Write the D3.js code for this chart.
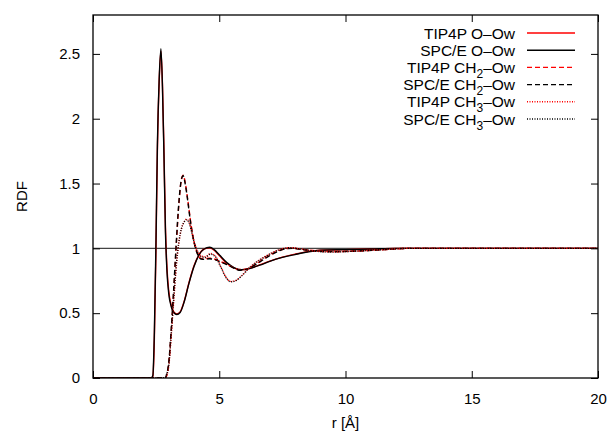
<!DOCTYPE html>
<html>
<head>
<meta charset="utf-8">
<script src="https://cdn.jsdelivr.net/npm/d3@7"></script>
<style>
  html, body { margin: 0; padding: 0; background: #fff; }
  svg { display: block; font-family: "Liberation Sans", Arial, sans-serif; }
</style>
</head>
<body>
<svg id="chart" width="610" height="435"></svg>
<script>
// ---- data ----
const xTicks = [0, 5, 10, 15, 20];
const yTicks = [0, 0.5, 1, 1.5, 2, 2.5];
const yTickLabels = ["0", "0.5", "1", "1.5", "2", "2.5"];

// O–Ow
const rO      = [0, 2.3, 2.37, 2.43, 2.49, 2.55, 2.62, 2.69, 2.75, 2.81, 2.87, 2.93, 3.0, 3.1, 3.2, 3.32, 3.45, 3.6, 3.8, 4.0, 4.2, 4.4, 4.62, 4.8, 5.0, 5.3, 5.6, 5.9, 6.2, 6.6, 7.0, 7.5, 8.0, 8.5, 9.0, 10, 11, 12, 14, 16, 18, 20];
const spceO   = [0, 0, 0.02, 0.35, 1.0, 1.8, 2.3, 2.54, 2.25, 1.72, 1.12, 0.82, 0.65, 0.55, 0.505, 0.49, 0.505, 0.58, 0.73, 0.86, 0.95, 0.995, 1.008, 0.99, 0.95, 0.89, 0.85, 0.835, 0.845, 0.87, 0.9, 0.93, 0.952, 0.972, 0.985, 0.99, 0.995, 1.0, 1.0, 1.0, 1.0, 1.0];
const tip4pO  = [0, 0, 0.01, 0.3, 0.95, 1.75, 2.28, 2.52, 2.27, 1.76, 1.16, 0.85, 0.67, 0.56, 0.51, 0.495, 0.51, 0.585, 0.735, 0.865, 0.952, 0.995, 1.004, 0.985, 0.945, 0.885, 0.847, 0.835, 0.846, 0.872, 0.902, 0.932, 0.955, 0.975, 0.986, 0.99, 0.995, 1.0, 1.0, 1.0, 1.0, 1.0];

// CH2–Ow
const rCH2     = [0, 2.85, 2.92, 3.0, 3.1, 3.2, 3.3, 3.4, 3.5, 3.57, 3.65, 3.75, 3.85, 3.95, 4.05, 4.15, 4.25, 4.4, 4.6, 4.8, 5.0, 5.3, 5.6, 5.85, 6.1, 6.4, 6.8, 7.2, 7.6, 7.9, 8.3, 8.8, 9.5, 10.5, 11.5, 12.5, 14, 16, 18, 20];
const spceCH2  = [0, 0, 0.03, 0.12, 0.38, 0.7, 1.05, 1.35, 1.53, 1.56, 1.5, 1.37, 1.22, 1.1, 1.01, 0.95, 0.92, 0.915, 0.92, 0.915, 0.9, 0.875, 0.845, 0.83, 0.84, 0.87, 0.92, 0.965, 0.995, 1.0, 0.99, 0.98, 0.975, 0.98, 0.99, 1.0, 1.0, 1.0, 1.0, 1.0];
const tip4pCH2 = [0, 0, 0.02, 0.11, 0.36, 0.68, 1.03, 1.34, 1.53, 1.565, 1.51, 1.38, 1.23, 1.1, 1.01, 0.955, 0.925, 0.918, 0.925, 0.918, 0.902, 0.877, 0.847, 0.832, 0.842, 0.872, 0.923, 0.968, 0.997, 1.002, 0.992, 0.982, 0.976, 0.98, 0.99, 1.0, 1.0, 1.0, 1.0, 1.0];

// CH3–Ow
const rCH3     = [0, 2.85, 2.92, 3.0, 3.1, 3.2, 3.3, 3.4, 3.5, 3.6, 3.7, 3.8, 3.9, 4.0, 4.15, 4.3, 4.45, 4.65, 4.85, 5.05, 5.25, 5.45, 5.65, 5.9, 6.2, 6.6, 7.0, 7.4, 7.8, 8.2, 8.8, 9.5, 10.5, 11.5, 12.5, 14, 16, 18, 20];
const spceCH3  = [0, 0, 0.03, 0.1, 0.35, 0.62, 0.88, 1.05, 1.15, 1.2, 1.22, 1.2, 1.13, 1.05, 0.97, 0.935, 0.93, 0.955, 0.935, 0.86, 0.78, 0.742, 0.75, 0.79, 0.85, 0.91, 0.955, 0.99, 1.005, 0.995, 0.978, 0.972, 0.98, 0.99, 1.0, 1.0, 1.0, 1.0, 1.0];
const tip4pCH3 = [0, 0, 0.02, 0.09, 0.33, 0.6, 0.86, 1.04, 1.15, 1.2, 1.225, 1.205, 1.14, 1.055, 0.975, 0.94, 0.935, 0.96, 0.94, 0.865, 0.785, 0.745, 0.752, 0.792, 0.852, 0.912, 0.957, 0.992, 1.006, 0.996, 0.979, 0.973, 0.98, 0.99, 1.0, 1.0, 1.0, 1.0, 1.0];

// legend labels: [main text, subscript, rest]
const seriesLabels = [
  ["TIP4P O–Ow"],
  ["SPC/E O–Ow"],
  ["TIP4P CH", "2", "–Ow"],
  ["SPC/E CH", "2", "–Ow"],
  ["TIP4P CH", "3", "–Ow"],
  ["SPC/E CH", "3", "–Ow"]
];

// ---- build series from arrays ----
const zip = (xs, ys) => xs.map((x, i) => [x, ys[i]]);
const series = [
  { name: seriesLabels[0], pts: zip(rO, tip4pO),     color: "#ff0000", dash: null },
  { name: seriesLabels[1], pts: zip(rO, spceO),      color: "#000000", dash: null },
  { name: seriesLabels[2], pts: zip(rCH2, tip4pCH2), color: "#ff0000", dash: "5,3" },
  { name: seriesLabels[3], pts: zip(rCH2, spceCH2),  color: "#000000", dash: "5,3" },
  { name: seriesLabels[4], pts: zip(rCH3, tip4pCH3), color: "#ff0000", dash: "1,1.5" },
  { name: seriesLabels[5], pts: zip(rCH3, spceCH3),  color: "#000000", dash: "1,1.5" }
];

// ---- layout ----
const svg = d3.select("#chart");
const L = 93, R = 598, T = 15, B = 378;
const x = d3.scaleLinear().domain([0, 20]).range([L, R]);
const y = d3.scaleLinear().domain([0, 2.8]).range([B, T]);
const fs = 15;

svg.append("clipPath").attr("id", "clip")
  .append("rect").attr("x", L).attr("y", T).attr("width", R - L).attr("height", B - T);

// reference line y=1
svg.append("line")
  .attr("x1", x(0)).attr("x2", x(20)).attr("y1", y(1)).attr("y2", y(1))
  .attr("stroke", "#444").attr("stroke-width", 1.2);

// curves
const line = d3.line().x(d => x(d[0])).y(d => y(d[1])).curve(d3.curveMonotoneX);
const g = svg.append("g").attr("clip-path", "url(#clip)");
series.forEach(s => {
  g.append("path")
    .attr("d", line(s.pts))
    .attr("fill", "none")
    .attr("stroke", s.color)
    .attr("stroke-width", 1.4)
    .attr("stroke-dasharray", s.dash);
});

// axes (ticks inward, mirrored)
const tl = 7;
const axB = d3.axisBottom(x).tickValues(xTicks).tickSize(-tl).tickPadding(tl + 8);
const axT = d3.axisTop(x).tickValues(xTicks).tickSize(-tl).tickFormat("");
const axL = d3.axisLeft(y).tickValues(yTicks).tickSize(-tl).tickPadding(tl + 6)
  .tickFormat((d, i) => yTickLabels[i]);
const axR = d3.axisRight(y).tickValues(yTicks).tickSize(-tl).tickFormat("");

function style(gg) {
  gg.select(".domain").remove();
  gg.selectAll(".tick line").attr("stroke", "#000").attr("stroke-width", 1);
  gg.selectAll(".tick text").attr("fill", "#000").style("font-size", fs + "px")
    .style("font-family", '"Liberation Sans", Arial, sans-serif');
}
svg.append("g").attr("transform", `translate(0,${B})`).call(axB).call(style);
svg.append("g").attr("transform", `translate(0,${T})`).call(axT).call(style);
svg.append("g").attr("transform", `translate(${L},0)`).call(axL).call(style);
svg.append("g").attr("transform", `translate(${R},0)`).call(axR).call(style);

// frame
svg.append("rect").attr("x", L).attr("y", T).attr("width", R - L).attr("height", B - T)
  .attr("fill", "none").attr("stroke", "#000").attr("stroke-width", 1.3);

// axis labels
svg.append("text").attr("x", (L + R) / 2).attr("y", 428).attr("text-anchor", "middle")
  .style("font-size", fs + "px").text("r [Å]");
svg.append("text").attr("transform", `translate(27,${(T + B) / 2}) rotate(-90)`)
  .attr("text-anchor", "middle").style("font-size", fs + "px").text("RDF");

// legend
const legX = 515, legY0 = 33, legDy = 17.2;
series.forEach((s, i) => {
  const yy = legY0 + i * legDy;
  const t = svg.append("text").attr("x", legX).attr("y", yy + 5.5)
    .attr("text-anchor", "end").style("font-size", "15.5px");
  t.append("tspan").text(s.name[0]);
  if (s.name.length > 1) {
    t.append("tspan").attr("dy", 5).style("font-size", "12px").text(s.name[1]);
    t.append("tspan").attr("dy", -5).text(s.name[2]);
  }
  svg.append("line").attr("x1", 527).attr("x2", 575).attr("y1", yy).attr("y2", yy)
    .attr("stroke", s.color).attr("stroke-width", 1.4).attr("stroke-dasharray", s.dash);
});
</script>
</body>
</html>
